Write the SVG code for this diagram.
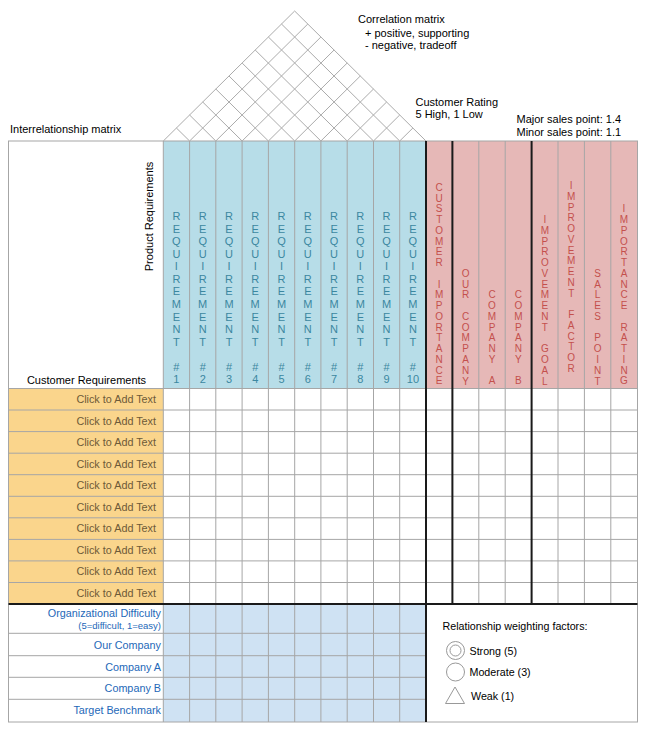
<svg xmlns="http://www.w3.org/2000/svg" width="652" height="737" viewBox="0 0 652 737">
<style>
text{font-family:"Liberation Sans",Arial,sans-serif;fill:#000}
.t11{font-size:11px}
.lg{font-size:10.7px}
.rq{font-size:11px;fill:#3b87a0;text-anchor:middle}
.rh{font-size:10px;fill:#c4504d;text-anchor:middle}
.ck{font-size:10.8px;fill:#6e5a38;text-anchor:end}
.bl{font-size:10.8px;fill:#2468b8;text-anchor:end}
.g{stroke:#a6a6a6;stroke-width:1;fill:none}
.k{stroke:#1a1a1a;stroke-width:2;fill:none}
.roof{stroke:#ababab;stroke-width:1;fill:none}
</style>
<rect width="652" height="737" fill="#fff"/>
<g id="roof">
<path class="roof" d="M163.3,141L294.65,11L426,141M176.4,128L189.6,141M189.6,115L215.8,141M202.7,102L242.1,141M215.8,89L268.4,141M229,76L294.7,141M242.1,63L320.9,141M255.2,50L347.2,141M268.4,37L373.5,141M281.5,24L399.7,141M189.6,141L307.8,24M215.8,141L320.9,37M242.1,141L334.1,50M268.4,141L347.2,63M294.7,141L360.3,76M320.9,141L373.5,89M347.2,141L386.6,102M373.5,141L399.7,115M399.7,141L412.9,128"/>
</g>
<g id="notes">
<text class="t11" x="358" y="23">Correlation matrix</text>
<text class="t11" x="365" y="37">+ positive, supporting</text>
<text class="t11" x="365" y="49">- negative, tradeoff</text>
<text class="t11" x="415.5" y="105.5">Customer Rating</text>
<text class="t11" x="415.5" y="117.5">5 High, 1 Low</text>
<text class="t11" x="516.5" y="123">Major sales point: 1.4</text>
<text class="t11" x="516.5" y="135.5">Minor sales point: 1.1</text>
<text class="t11" x="10" y="133">Interrelationship matrix</text>
</g>
<g id="fills">
<rect x="163.3" y="141" width="262.7" height="247.5" fill="#b7dde8"/>
<rect x="426" y="141" width="211.5" height="247.5" fill="#e6b8b7"/>
<rect x="8.5" y="388.5" width="154.8" height="215.5" fill="#fad58c"/>
<rect x="163.3" y="604" width="262.7" height="118" fill="#cfe2f3"/>
</g>
<g id="grid">
<path class="g" d="M189.6,141V722M215.8,141V722M242.1,141V722M268.4,141V722M294.7,141V722M320.9,141V722M347.2,141V722M373.5,141V722M399.7,141V722M163.3,141V722M478.8,141V604M505.2,141V604M558,141V604M584.4,141V604M610.8,141V604"/>
<path class="g" d="M8.5,388.5H637.5M8.5,410H637.5M8.5,431.6H637.5M8.5,453.2H637.5M8.5,474.7H637.5M8.5,496.3H637.5M8.5,517.8H637.5M8.5,539.4H637.5M8.5,560.9H637.5M8.5,582.5H637.5M8.5,633.3H426M8.5,655.7H426M8.5,677.3H426M8.5,699.3H426"/>
<rect class="g" x="8.5" y="141" width="629" height="581" stroke="#999"/>
<path class="k" d="M426,141V722M452.4,141V604M531.6,141V604M8.5,604H637.5"/>
</g>
<g id="product-requirements">
<text class="t11" text-anchor="middle" transform="translate(152.5,216.5) rotate(-90)">Product Requirements</text>
</g>
<g id="requirements">
<text class="rq" x="176.4" y="220">R<tspan x="176.4" dy="12.57">E</tspan><tspan x="176.4" dy="12.57">Q</tspan><tspan x="176.4" dy="12.57">U</tspan><tspan x="176.4" dy="12.57">I</tspan><tspan x="176.4" dy="12.57">R</tspan><tspan x="176.4" dy="12.57">E</tspan><tspan x="176.4" dy="12.57">M</tspan><tspan x="176.4" dy="12.57">E</tspan><tspan x="176.4" dy="12.57">N</tspan><tspan x="176.4" dy="12.57">T</tspan><tspan x="176.4" dy="25.14">#</tspan><tspan x="176.4" dy="12.57">1</tspan></text>
<text class="rq" x="202.7" y="220">R<tspan x="202.7" dy="12.57">E</tspan><tspan x="202.7" dy="12.57">Q</tspan><tspan x="202.7" dy="12.57">U</tspan><tspan x="202.7" dy="12.57">I</tspan><tspan x="202.7" dy="12.57">R</tspan><tspan x="202.7" dy="12.57">E</tspan><tspan x="202.7" dy="12.57">M</tspan><tspan x="202.7" dy="12.57">E</tspan><tspan x="202.7" dy="12.57">N</tspan><tspan x="202.7" dy="12.57">T</tspan><tspan x="202.7" dy="25.14">#</tspan><tspan x="202.7" dy="12.57">2</tspan></text>
<text class="rq" x="229" y="220">R<tspan x="229" dy="12.57">E</tspan><tspan x="229" dy="12.57">Q</tspan><tspan x="229" dy="12.57">U</tspan><tspan x="229" dy="12.57">I</tspan><tspan x="229" dy="12.57">R</tspan><tspan x="229" dy="12.57">E</tspan><tspan x="229" dy="12.57">M</tspan><tspan x="229" dy="12.57">E</tspan><tspan x="229" dy="12.57">N</tspan><tspan x="229" dy="12.57">T</tspan><tspan x="229" dy="25.14">#</tspan><tspan x="229" dy="12.57">3</tspan></text>
<text class="rq" x="255.2" y="220">R<tspan x="255.2" dy="12.57">E</tspan><tspan x="255.2" dy="12.57">Q</tspan><tspan x="255.2" dy="12.57">U</tspan><tspan x="255.2" dy="12.57">I</tspan><tspan x="255.2" dy="12.57">R</tspan><tspan x="255.2" dy="12.57">E</tspan><tspan x="255.2" dy="12.57">M</tspan><tspan x="255.2" dy="12.57">E</tspan><tspan x="255.2" dy="12.57">N</tspan><tspan x="255.2" dy="12.57">T</tspan><tspan x="255.2" dy="25.14">#</tspan><tspan x="255.2" dy="12.57">4</tspan></text>
<text class="rq" x="281.5" y="220">R<tspan x="281.5" dy="12.57">E</tspan><tspan x="281.5" dy="12.57">Q</tspan><tspan x="281.5" dy="12.57">U</tspan><tspan x="281.5" dy="12.57">I</tspan><tspan x="281.5" dy="12.57">R</tspan><tspan x="281.5" dy="12.57">E</tspan><tspan x="281.5" dy="12.57">M</tspan><tspan x="281.5" dy="12.57">E</tspan><tspan x="281.5" dy="12.57">N</tspan><tspan x="281.5" dy="12.57">T</tspan><tspan x="281.5" dy="25.14">#</tspan><tspan x="281.5" dy="12.57">5</tspan></text>
<text class="rq" x="307.8" y="220">R<tspan x="307.8" dy="12.57">E</tspan><tspan x="307.8" dy="12.57">Q</tspan><tspan x="307.8" dy="12.57">U</tspan><tspan x="307.8" dy="12.57">I</tspan><tspan x="307.8" dy="12.57">R</tspan><tspan x="307.8" dy="12.57">E</tspan><tspan x="307.8" dy="12.57">M</tspan><tspan x="307.8" dy="12.57">E</tspan><tspan x="307.8" dy="12.57">N</tspan><tspan x="307.8" dy="12.57">T</tspan><tspan x="307.8" dy="25.14">#</tspan><tspan x="307.8" dy="12.57">6</tspan></text>
<text class="rq" x="334.1" y="220">R<tspan x="334.1" dy="12.57">E</tspan><tspan x="334.1" dy="12.57">Q</tspan><tspan x="334.1" dy="12.57">U</tspan><tspan x="334.1" dy="12.57">I</tspan><tspan x="334.1" dy="12.57">R</tspan><tspan x="334.1" dy="12.57">E</tspan><tspan x="334.1" dy="12.57">M</tspan><tspan x="334.1" dy="12.57">E</tspan><tspan x="334.1" dy="12.57">N</tspan><tspan x="334.1" dy="12.57">T</tspan><tspan x="334.1" dy="25.14">#</tspan><tspan x="334.1" dy="12.57">7</tspan></text>
<text class="rq" x="360.3" y="220">R<tspan x="360.3" dy="12.57">E</tspan><tspan x="360.3" dy="12.57">Q</tspan><tspan x="360.3" dy="12.57">U</tspan><tspan x="360.3" dy="12.57">I</tspan><tspan x="360.3" dy="12.57">R</tspan><tspan x="360.3" dy="12.57">E</tspan><tspan x="360.3" dy="12.57">M</tspan><tspan x="360.3" dy="12.57">E</tspan><tspan x="360.3" dy="12.57">N</tspan><tspan x="360.3" dy="12.57">T</tspan><tspan x="360.3" dy="25.14">#</tspan><tspan x="360.3" dy="12.57">8</tspan></text>
<text class="rq" x="386.6" y="220">R<tspan x="386.6" dy="12.57">E</tspan><tspan x="386.6" dy="12.57">Q</tspan><tspan x="386.6" dy="12.57">U</tspan><tspan x="386.6" dy="12.57">I</tspan><tspan x="386.6" dy="12.57">R</tspan><tspan x="386.6" dy="12.57">E</tspan><tspan x="386.6" dy="12.57">M</tspan><tspan x="386.6" dy="12.57">E</tspan><tspan x="386.6" dy="12.57">N</tspan><tspan x="386.6" dy="12.57">T</tspan><tspan x="386.6" dy="25.14">#</tspan><tspan x="386.6" dy="12.57">9</tspan></text>
<text class="rq" x="412.9" y="220">R<tspan x="412.9" dy="12.57">E</tspan><tspan x="412.9" dy="12.57">Q</tspan><tspan x="412.9" dy="12.57">U</tspan><tspan x="412.9" dy="12.57">I</tspan><tspan x="412.9" dy="12.57">R</tspan><tspan x="412.9" dy="12.57">E</tspan><tspan x="412.9" dy="12.57">M</tspan><tspan x="412.9" dy="12.57">E</tspan><tspan x="412.9" dy="12.57">N</tspan><tspan x="412.9" dy="12.57">T</tspan><tspan x="412.9" dy="25.14">#</tspan><tspan x="412.9" dy="12.57">10</tspan></text>
</g>
<g id="ratings">
<text class="rh" x="439.2" y="190.8">C<tspan x="439.2" dy="10.76">U</tspan><tspan x="439.2" dy="10.76">S</tspan><tspan x="439.2" dy="10.76">T</tspan><tspan x="439.2" dy="10.76">O</tspan><tspan x="439.2" dy="10.76">M</tspan><tspan x="439.2" dy="10.76">E</tspan><tspan x="439.2" dy="10.76">R</tspan><tspan x="439.2" dy="21.52">I</tspan><tspan x="439.2" dy="10.76">M</tspan><tspan x="439.2" dy="10.76">P</tspan><tspan x="439.2" dy="10.76">O</tspan><tspan x="439.2" dy="10.76">R</tspan><tspan x="439.2" dy="10.76">T</tspan><tspan x="439.2" dy="10.76">A</tspan><tspan x="439.2" dy="10.76">N</tspan><tspan x="439.2" dy="10.76">C</tspan><tspan x="439.2" dy="10.76">E</tspan></text>
<text class="rh" x="465.6" y="276.9">O<tspan x="465.6" dy="10.76">U</tspan><tspan x="465.6" dy="10.76">R</tspan><tspan x="465.6" dy="21.52">C</tspan><tspan x="465.6" dy="10.76">O</tspan><tspan x="465.6" dy="10.76">M</tspan><tspan x="465.6" dy="10.76">P</tspan><tspan x="465.6" dy="10.76">A</tspan><tspan x="465.6" dy="10.76">N</tspan><tspan x="465.6" dy="10.76">Y</tspan></text>
<text class="rh" x="492" y="298.4">C<tspan x="492" dy="10.76">O</tspan><tspan x="492" dy="10.76">M</tspan><tspan x="492" dy="10.76">P</tspan><tspan x="492" dy="10.76">A</tspan><tspan x="492" dy="10.76">N</tspan><tspan x="492" dy="10.76">Y</tspan><tspan x="492" dy="21.52">A</tspan></text>
<text class="rh" x="518.4" y="298.4">C<tspan x="518.4" dy="10.76">O</tspan><tspan x="518.4" dy="10.76">M</tspan><tspan x="518.4" dy="10.76">P</tspan><tspan x="518.4" dy="10.76">A</tspan><tspan x="518.4" dy="10.76">N</tspan><tspan x="518.4" dy="10.76">Y</tspan><tspan x="518.4" dy="21.52">B</tspan></text>
<text class="rh" x="544.8" y="223.1">I<tspan x="544.8" dy="10.76">M</tspan><tspan x="544.8" dy="10.76">P</tspan><tspan x="544.8" dy="10.76">R</tspan><tspan x="544.8" dy="10.76">O</tspan><tspan x="544.8" dy="10.76">V</tspan><tspan x="544.8" dy="10.76">E</tspan><tspan x="544.8" dy="10.76">M</tspan><tspan x="544.8" dy="10.76">E</tspan><tspan x="544.8" dy="10.76">N</tspan><tspan x="544.8" dy="10.76">T</tspan><tspan x="544.8" dy="21.52">G</tspan><tspan x="544.8" dy="10.76">O</tspan><tspan x="544.8" dy="10.76">A</tspan><tspan x="544.8" dy="10.76">L</tspan></text>
<text class="rh" x="571.2" y="189">I<tspan x="571.2" dy="10.76">M</tspan><tspan x="571.2" dy="10.76">P</tspan><tspan x="571.2" dy="10.76">R</tspan><tspan x="571.2" dy="10.76">O</tspan><tspan x="571.2" dy="10.76">V</tspan><tspan x="571.2" dy="10.76">E</tspan><tspan x="571.2" dy="10.76">M</tspan><tspan x="571.2" dy="10.76">E</tspan><tspan x="571.2" dy="10.76">N</tspan><tspan x="571.2" dy="10.76">T</tspan><tspan x="571.2" dy="21.52">F</tspan><tspan x="571.2" dy="10.76">A</tspan><tspan x="571.2" dy="10.76">C</tspan><tspan x="571.2" dy="10.76">T</tspan><tspan x="571.2" dy="10.76">O</tspan><tspan x="571.2" dy="10.76">R</tspan></text>
<text class="rh" x="597.6" y="276.9">S<tspan x="597.6" dy="10.76">A</tspan><tspan x="597.6" dy="10.76">L</tspan><tspan x="597.6" dy="10.76">E</tspan><tspan x="597.6" dy="10.76">S</tspan><tspan x="597.6" dy="21.52">P</tspan><tspan x="597.6" dy="10.76">O</tspan><tspan x="597.6" dy="10.76">I</tspan><tspan x="597.6" dy="10.76">N</tspan><tspan x="597.6" dy="10.76">T</tspan></text>
<text class="rh" x="624" y="212.3">I<tspan x="624" dy="10.76">M</tspan><tspan x="624" dy="10.76">P</tspan><tspan x="624" dy="10.76">O</tspan><tspan x="624" dy="10.76">R</tspan><tspan x="624" dy="10.76">T</tspan><tspan x="624" dy="10.76">A</tspan><tspan x="624" dy="10.76">N</tspan><tspan x="624" dy="10.76">C</tspan><tspan x="624" dy="10.76">E</tspan><tspan x="624" dy="21.52">R</tspan><tspan x="624" dy="10.76">A</tspan><tspan x="624" dy="10.76">T</tspan><tspan x="624" dy="10.76">I</tspan><tspan x="624" dy="10.76">N</tspan><tspan x="624" dy="10.76">G</tspan></text>
</g>
<g id="customer-requirements">
<text class="t11" x="86.5" y="384" text-anchor="middle">Customer Requirements</text>
<text class="ck" x="156" y="403">Click to Add Text</text>
<text class="ck" x="156" y="424.6">Click to Add Text</text>
<text class="ck" x="156" y="446.1">Click to Add Text</text>
<text class="ck" x="156" y="467.7">Click to Add Text</text>
<text class="ck" x="156" y="489.2">Click to Add Text</text>
<text class="ck" x="156" y="510.8">Click to Add Text</text>
<text class="ck" x="156" y="532.3">Click to Add Text</text>
<text class="ck" x="156" y="553.9">Click to Add Text</text>
<text class="ck" x="156" y="575.4">Click to Add Text</text>
<text class="ck" x="156" y="597">Click to Add Text</text>
</g>
<g id="benchmarks">
<text class="bl" x="161" y="617">Organizational Difficulty</text>
<text class="bl" x="161" y="628.5" style="font-size:9.5px">(5=difficult, 1=easy)</text>
<text class="bl" x="161" y="649">Our Company</text>
<text class="bl" x="161" y="670.5">Company A</text>
<text class="bl" x="161" y="692">Company B</text>
<text class="bl" x="161" y="714">Target Benchmark</text>
</g>
<g id="legend">
<text class="lg" x="442.5" y="629.5">Relationship weighting factors:</text>
<circle cx="455.5" cy="650.5" r="9" fill="none" stroke="#999" stroke-width="1"/>
<circle cx="455.5" cy="650.5" r="5.5" fill="none" stroke="#999" stroke-width="1"/>
<text class="lg" x="469.5" y="654.5">Strong (5)</text>
<circle cx="455.5" cy="672" r="9" fill="none" stroke="#999" stroke-width="1"/>
<text class="lg" x="469.5" y="676">Moderate (3)</text>
<path d="M455,687L464.5,703.5H445.5Z" fill="none" stroke="#999" stroke-width="1"/>
<text class="lg" x="471" y="699.5">Weak (1)</text>
</g>
</svg>
